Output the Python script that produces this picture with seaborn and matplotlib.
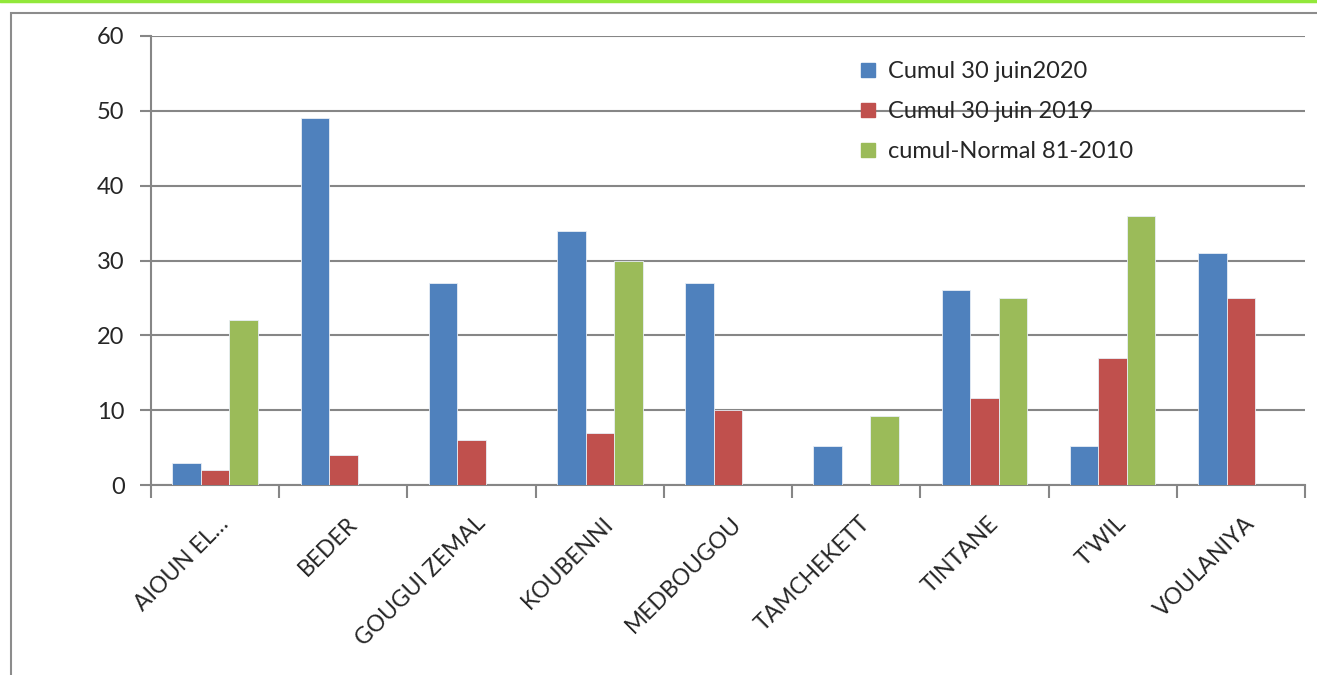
import numpy as np
import pandas as pd
import matplotlib
matplotlib.use("Agg")
import matplotlib.pyplot as plt
from matplotlib.patches import Rectangle
from matplotlib.lines import Line2D
from matplotlib.transforms import ScaledTranslation
import seaborn as sns

stations = ["AIOUN EL…", "BEDER", "GOUGUI ZEMAL", "KOUBENNI", "MEDBOUGOU",
            "TAMCHEKETT", "TINTANE", "T'WIL", "VOULANIYA"]
cumul_2020 = [3, 49, 27, 34, 27, 5.2, 26, 5.2, 31]
cumul_2019 = [2, 4, 6, 7, 10, np.nan, 11.6, 17, 25]
normale = [22, np.nan, np.nan, 30, np.nan, 9.2, 25, 36, np.nan]
series_names = ["Cumul 30 juin2020", "Cumul 30 juin 2019", "cumul-Normal 81-2010"]
colors = ["#4F81BD", "#C0504D", "#9BBB59"]

df = pd.DataFrame({
    "station": stations * 3,
    "serie": np.repeat(series_names, len(stations)),
    "valeur": cumul_2020 + cumul_2019 + normale,
})

sns.set_style("white")
plt.rcParams["font.family"] = ["Lato", "DejaVu Sans"]

fig = plt.figure(figsize=(13.17, 6.75), dpi=100)
ax = fig.add_axes([151 / 1317, 1 - 485 / 675, (1305 - 151) / 1317, (485 - 36) / 675])

sns.barplot(data=df, x="station", y="valeur", hue="serie", order=stations,
            hue_order=series_names, palette=colors, saturation=1, width=0.667,
            ax=ax, edgecolor="#E8EEF6", linewidth=0.6, errorbar=None, zorder=3)

ax.set_xlim(-0.5, len(stations) - 0.5)
ax.set_ylim(0, 60)
ax.set_yticks(range(0, 61, 10))
ax.yaxis.grid(True, color="#868686", linewidth=1.5, zorder=0)
ax.set_axisbelow(True)
ax.set_xlabel("")
ax.set_ylabel("")

for side in ["top", "right"]:
    ax.spines[side].set_visible(False)
for side in ["left", "bottom"]:
    ax.spines[side].set_color("#868686")
    ax.spines[side].set_linewidth(1.5)

# y ticks outward on the left axis
ax.tick_params(axis="y", which="major", direction="out", length=8, width=1.5,
               color="#868686", labelsize=17, pad=11, left=True)

# x: category labels at centres, tick marks at category boundaries
ax.set_xticks(range(len(stations)))
ax.set_xticklabels(stations, rotation=45, ha="right", rotation_mode="anchor",
                   fontsize=16.5)
ax.tick_params(axis="x", which="major", length=0, pad=20)
shift = ScaledTranslation(3 / 100, 0, fig.dpi_scale_trans)
for lbl in ax.get_xticklabels():
    lbl.set_transform(lbl.get_transform() + shift)
ax.set_xticks(np.arange(-0.5, len(stations), 1.0), minor=True)
ax.tick_params(axis="x", which="minor", direction="out", length=9, width=1.5,
               color="#868686", bottom=True)

# legend
handles = [Line2D([0], [0], marker="s", linestyle="none", markersize=10,
                  markerfacecolor=c, markeredgecolor=c) for c in colors]
ax.legend(handles, series_names, loc="upper left", bbox_to_anchor=(0.603, 0.965),
          frameon=False, fontsize=17, labelspacing=0.8, handletextpad=0.35,
          handlelength=1.0, borderaxespad=0)

# chart frame and top accent line
fig.patches.append(Rectangle((11 / 1317, -0.05), 1.1, 1 - 13 / 675 + 0.05,
                             transform=fig.transFigure, fill=False,
                             edgecolor="#8C8C8C", linewidth=1.5))
fig.lines.append(Line2D([0, 1], [1 - 1 / 675, 1 - 1 / 675], transform=fig.transFigure,
                        color="#92E83A", linewidth=2.5))

fig.savefig("out.png", dpi=100, facecolor="white")
